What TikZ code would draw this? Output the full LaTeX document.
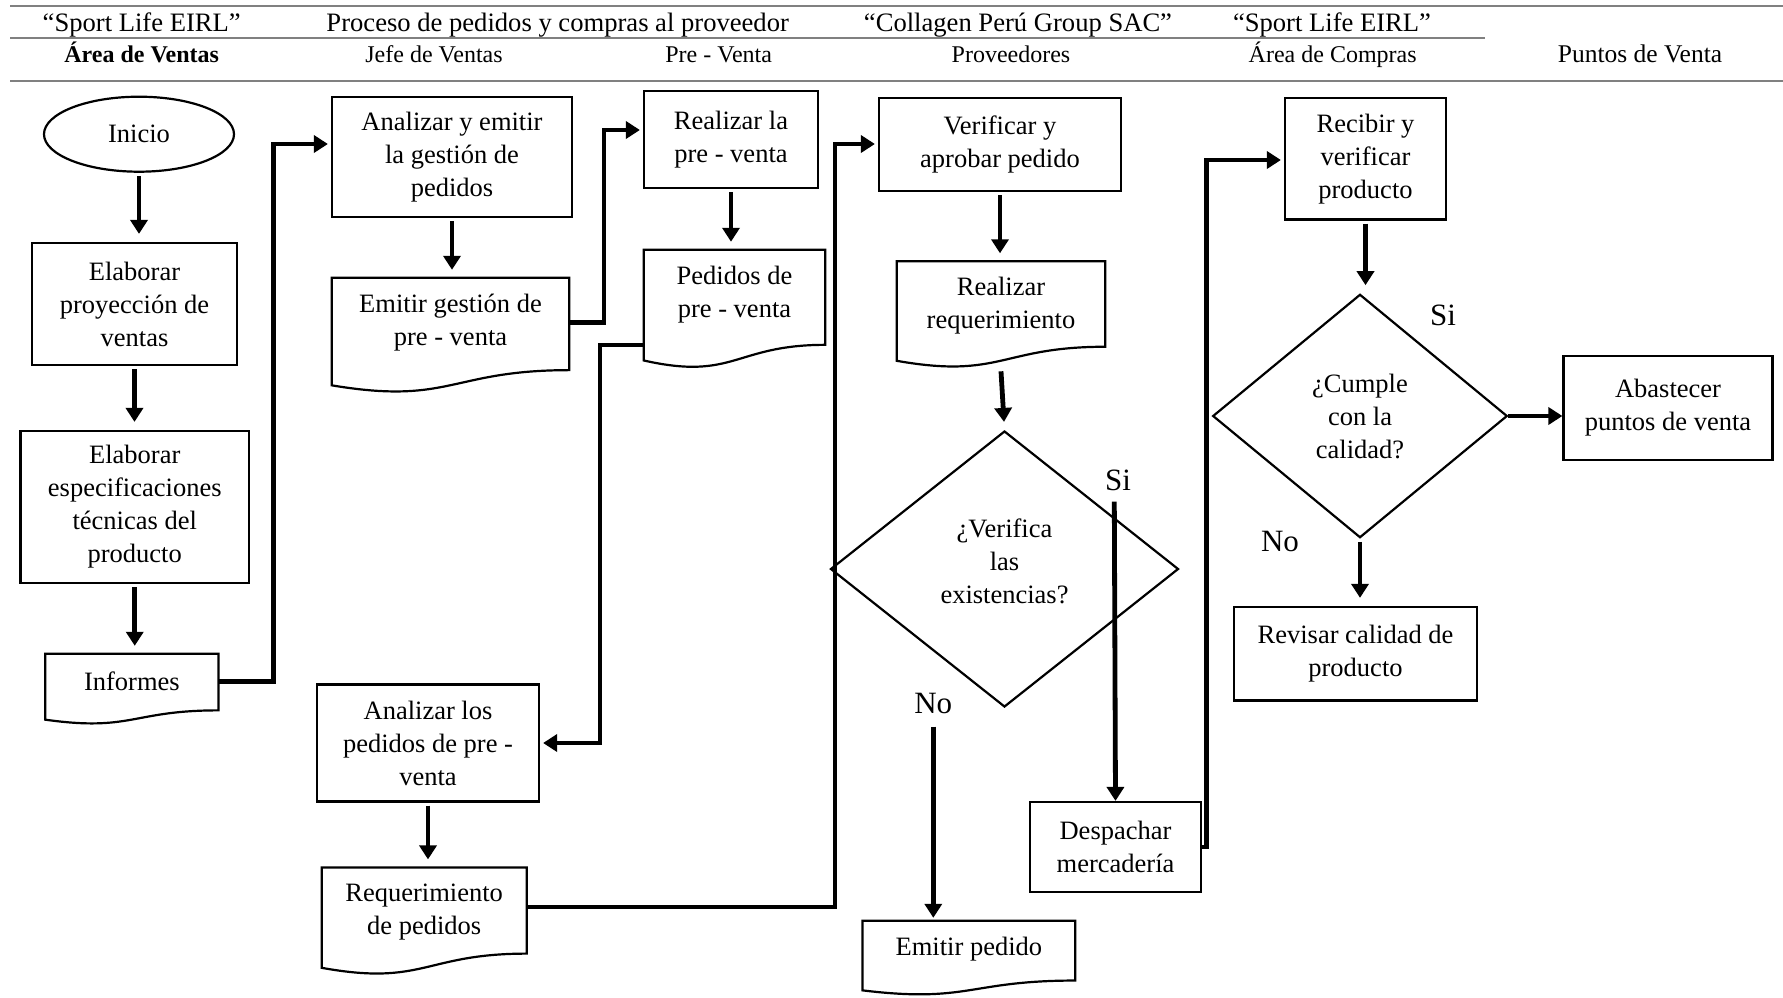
\documentclass[tikz,border=0pt]{standalone}
\usepackage{fontspec}
\setmainfont{Liberation Serif}
\usetikzlibrary{arrows.meta,calc,shapes.geometric}
\newcommand\fbody{\fontsize{26.5}{33}\selectfont}
\newcommand\fhdA{\fontsize{26.6}{30}\selectfont}
\newcommand\fhdB{\fontsize{24}{28}\selectfont}
\newcommand\fhdC{\fontsize{25.5}{30}\selectfont}
\newcommand\flab{\fontsize{31}{36}\selectfont}
% #1 node name, #2 = node height / full shape height
\newcommand\docshape[2]{%
  \pgfmathsetmacro\docRA{0.802/#2}%
  \pgfmathsetmacro\docRB{0.934/#2}%
  \pgfmathsetmacro\docRC{1.107/#2}%
  \draw[shp] (#1.north west) -- (#1.north east)
    -- ($(#1.north east)!\docRA!(#1.south east)$)
    .. controls ($(#1.north)!\docRA!(#1.south)$) and ($(#1.north)!\docRC!(#1.south)$)
    .. ($(#1.north west)!\docRB!(#1.south west)$) -- cycle;}
\begin{document}
\begin{tikzpicture}[x=1pt,y=-1pt,
  shp/.style={draw=black,line width=2.2pt,line join=miter},
  box/.style={shp,rectangle,inner sep=0pt,align=center,font=\fbody},
  docnode/.style={rectangle,inner sep=0pt,align=center,font=\fbody},
  term/.style={shp,ellipse,inner sep=0pt,align=center,font=\fbody},
  decis/.style={shp,diamond,inner sep=0pt,align=center,font=\fbody},
  txt/.style={inner sep=0pt,align=center,font=\fbody},
  arr/.style={line width=4.8pt,-{Triangle[width=17pt,length=14pt]},shorten >=3pt},
  varr/.style={arr,shorten >=8pt,shorten <=3pt},
  hline/.style={draw=black!50,line width=1.6pt},
  hdA/.style={anchor=base,font=\fhdA,inner sep=0pt},
  hdB/.style={anchor=base,font=\fhdB,inner sep=0pt},
  lab/.style={font=\flab,inner sep=0pt}]
\useasboundingbox (0,0) rectangle (1783,997);

% header
\draw[hline] (10,6) -- (1783,6);
\draw[hline] (10,37.7) -- (1485,37.7);
\draw[hline] (10,80.7) -- (1783,80.7);
\node[hdA] (hA1) at (141.7,31.7) {“Sport Life EIRL”};
\node[hdA] (hA2) at (557.7,31.7) {Proceso de pedidos y compras al proveedor};
\node[hdA] (hA3) at (1018,31.7) {“Collagen Perú Group SAC”};
\node[hdA] (hA4) at (1332,31.7) {“Sport Life EIRL”};
\node[hdB,font=\fhdB\bfseries] (hB1) at (141.7,62) {Área de Ventas};
\node[hdB] (hB2) at (434,62) {Jefe de Ventas};
\node[hdB] (hB3) at (718.7,62) {Pre - Venta};
\node[hdB] (hB4) at (1011,62) {Proveedores};
\node[hdB] (hB5) at (1332.7,62) {Área de Compras};
\node[hdB,font=\fhdC] (hB6) at (1640,62) {Puntos de Venta};

% column 1
\node[term,minimum width=190pt,minimum height=75pt] (inicio) at (139,134.2) {Inicio};
\node[box,minimum width=205pt,minimum height=122pt] (proy) at (134.5,304) {Elaborar\\proyección de\\ventas};
\node[box,minimum width=228.5pt,minimum height=152pt] (espec) at (134.75,507) {Elaborar\\especificaciones\\técnicas del\\producto};
\node[docnode,minimum width=172.8pt,minimum height=54.6pt] (informes) at (131.9,681.3) {Informes};

% column 2
\node[box,minimum width=240pt,minimum height=120pt] (anal1) at (452,157) {Analizar y emitir\\la gestión de\\pedidos};
\node[docnode,minimum width=237pt,minimum height=89.4pt] (emitg) at (450.5,322.7) {Emitir gestión de\\pre - venta};
\node[box,minimum width=222pt,minimum height=117pt] (analp) at (428,743) {Analizar los\\pedidos de pre -\\venta};
\node[docnode,minimum width=204.7pt,minimum height=88.6pt] (requer) at (424.2,911.9) {Requerimiento\\de pedidos};

% column 3
\node[box,minimum width=174pt,minimum height=97pt] (realpv) at (731,139.5) {Realizar la\\pre - venta};
\node[docnode,minimum width=181pt,minimum height=89.7pt] (pedpv) at (734.5,294.8) {Pedidos de\\pre - venta};

% column 4
\node[box,minimum width=242pt,minimum height=93pt] (verif) at (1000,144.5) {Verificar y\\aprobar pedido};
\node[docnode,minimum width=208pt,minimum height=87.6pt] (realreq) at (1001,305.3) {Realizar\\requerimiento};
\node[decis,minimum width=348pt,minimum height=276pt] (verifd) at (1004.5,569) {};
\node[txt] (verift) at (1004.5,561) {¿Verifica\\las\\existencias?};
\node[docnode,minimum width=212.3pt,minimum height=56.8pt] (emitp) at (968.9,949.4) {Emitir pedido};
\node[box,minimum width=171pt,minimum height=90pt] (desp) at (1115.5,847) {Despachar\\mercadería};

% column 5
\node[box,minimum width=161pt,minimum height=121.5pt] (recib) at (1365.5,158.7) {Recibir y\\verificar\\producto};
\node[decis,minimum width=294.6pt,minimum height=243.4pt] (cumple) at (1360,416) {¿Cumple\\con la\\calidad?};
\node[box,minimum width=243pt,minimum height=93.5pt] (revis) at (1355.5,653.7) {Revisar calidad de\\producto};

% column 6
\node[box,minimum width=209pt,minimum height=104.5pt] (abast) at (1668,408) {Abastecer\\puntos de venta};

% document outlines
\docshape{informes}{0.78}
\docshape{emitg}{0.78}
\docshape{pedpv}{0.76}
\docshape{requer}{0.828}
\docshape{realreq}{0.826}
\docshape{emitp}{0.768}

% labels
\node[lab] (si1) at (1118,480) {Si};
\node[lab] (no1) at (933.3,703.3) {No};
\node[lab] (si2) at (1443,315) {Si};
\node[lab] (no2) at (1280,541) {No};

% bend points
\coordinate (k1) at (273.3,144);
\coordinate (k2) at (604,130);
\coordinate (k3) at (600,345);
\coordinate (k4) at (835,144);
\coordinate (k5) at (1206.7,160);
\coordinate (k6) at (835,907);
\coordinate (s1) at (1114.3,501.7);
\coordinate (n1) at (933.3,726.7);

% connectors
\draw[varr] (inicio.south) -- (inicio.south |- proy.north);
\draw[varr] (proy.south) -- (proy.south |- espec.north);
\draw[varr] (espec.south) -- (espec.south |- informes.north);
\draw[arr] (informes.east) -| (k1) -- (k1 -| anal1.west);
\draw[varr] (anal1.south) -- (anal1.south |- emitg.north);
\draw[arr] (emitg.east) -| (k2) -- (k2 -| realpv.west);
\draw[varr] (realpv.south) -- (realpv.south |- pedpv.north);
\draw[arr] (k3 -| pedpv.west) -- (k3) |- (analp.east);
\draw[varr] (analp.south) -- (analp.south |- requer.north);
\draw[arr] (k6 -| requer.east) -- (k6) -- (k4) -- (k4 -| verif.west);
\draw[varr] (verif.south) -- (verif.south |- realreq.north);
\draw[varr,shorten <=0pt] ([yshift=-22pt]realreq.south) -- (verifd.north);
\draw[arr,shorten >=0pt] (s1) -- (desp.north);
\draw[arr] (n1) -- (n1 |- emitp.north);
\draw[arr] (desp.east) -| (k5) -- (k5 -| recib.west);
\draw[varr] (recib.south) -- (recib.south |- cumple.north);
\draw[arr,shorten >=0pt] (cumple.east) -- (cumple.east -| abast.west);
\draw[varr] (cumple.south) -- (cumple.south |- revis.north);
\end{tikzpicture}
\end{document}
